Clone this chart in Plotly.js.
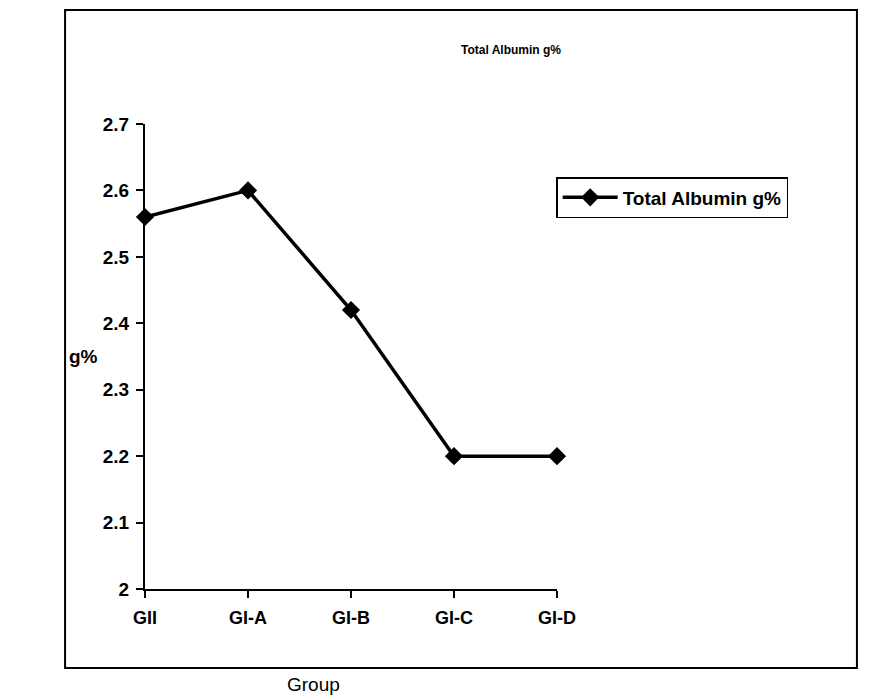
<!DOCTYPE html>
<html>
<head>
<meta charset="utf-8">
<script src="https://cdn.plot.ly/plotly-3.0.1.min.js"></script>
<style>body{margin:0;background:#fff}#chart{width:875px;height:700px}</style>
</head>
<body>
<div id="chart"></div>
<script>
const groups = ["GII", "GI-A", "GI-B", "GI-C", "GI-D"];
const albumin = [2.56, 2.6, 2.42, 2.2, 2.2];
const yTicks = [2, 2.1, 2.2, 2.3, 2.4, 2.5, 2.6, 2.7];
const yTickText = ["2", "2.1", "2.2", "2.3", "2.4", "2.5", "2.6", "2.7"];
const seriesName = "Total Albumin g%";

const font = "Liberation Sans, Arial, sans-serif";

const trace = {
  x: groups.map((g, i) => i),
  y: albumin,
  type: "scatter",
  mode: "lines+markers",
  name: "<b>" + seriesName + "</b>",
  line: {color: "#000", width: 3.5},
  marker: {symbol: "diamond", size: 14, color: "#000"},
  cliponaxis: false
};

const layout = {
  width: 875, height: 700,
  margin: {l: 145, r: 318, t: 124, b: 111},
  paper_bgcolor: "#fff", plot_bgcolor: "#fff",
  font: {family: font, color: "#000"},
  showlegend: true,
  legend: {
    x: 0.998, y: 0.886, xanchor: "left", yanchor: "top",
    bordercolor: "#000", borderwidth: 1.5, bgcolor: "#fff",
    font: {size: 19, family: font, color: "#000"},
    itemwidth: 55, tracegroupgap: 0
  },
  xaxis: {
    range: [0, 4], tickvals: groups.map((g, i) => i), ticktext: groups.map(g => "<b>" + g + "</b>"),
    showgrid: false, zeroline: false, showline: true, linecolor: "#000", linewidth: 2,
    ticks: "outside", ticklen: 7, tickwidth: 2, tickcolor: "#000",
    tickfont: {size: 18, family: font}, ticklabelstandoff: 4, fixedrange: true
  },
  yaxis: {
    range: [2, 2.7], tickvals: yTicks, ticktext: yTickText.map(t => "<b>" + t + "</b>"),
    showgrid: false, zeroline: false, showline: true, linecolor: "#000", linewidth: 2,
    ticks: "outside", ticklen: 7, tickwidth: 2, tickcolor: "#000",
    tickfont: {size: 19, family: font}, ticklabelstandoff: 3, fixedrange: true
  },
  shapes: [{
    type: "rect", xref: "paper", yref: "paper",
    x0: -0.194, x1: 1.728, y0: -0.170, y1: 1.245,
    line: {color: "#000", width: 2}, fillcolor: "rgba(0,0,0,0)", layer: "below"
  }],
  annotations: [
    {text: "<b>" + seriesName + "</b>", xref: "paper", yref: "paper", x: 0.888, y: 1.159,
     xanchor: "center", yanchor: "middle", showarrow: false, font: {size: 12, family: font}},
    {text: "<b>g%</b>", xref: "paper", yref: "paper", x: -0.15, y: 0.5,
     xanchor: "center", yanchor: "middle", showarrow: false, font: {size: 19, family: font}},
    {text: "Group", xref: "paper", yref: "paper", x: 0.408, y: -0.206,
     xanchor: "center", yanchor: "middle", showarrow: false, font: {size: 19, family: font}}
  ]
};

Plotly.newPlot("chart", [trace], layout, {displayModeBar: false, staticPlot: true});
</script>
</body>
</html>
